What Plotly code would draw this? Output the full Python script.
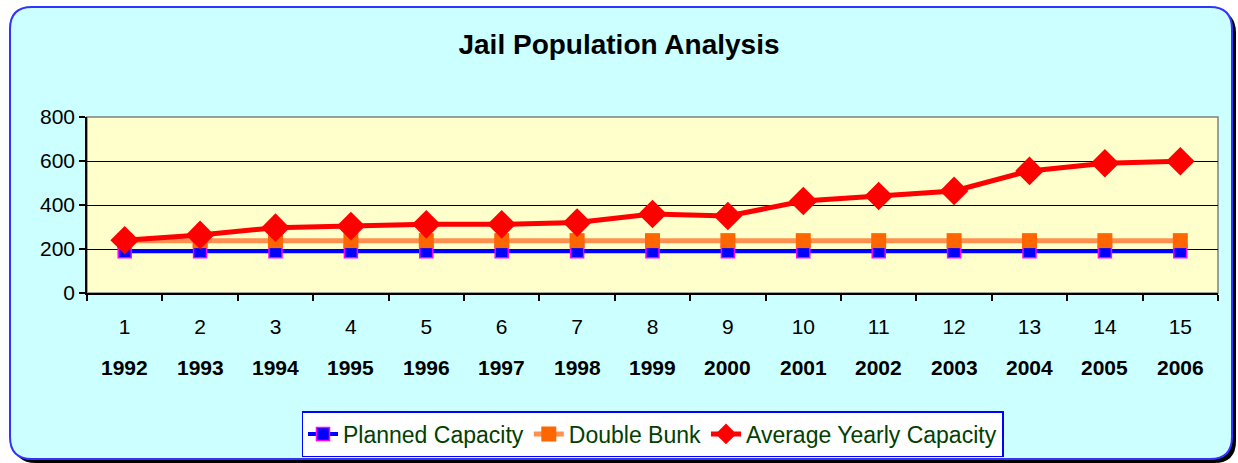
import plotly.graph_objects as go

categories = list(range(1, 16))
years = ["1992", "1993", "1994", "1995", "1996", "1997", "1998", "1999",
         "2000", "2001", "2002", "2003", "2004", "2005", "2006"]
planned_capacity = [190] * 15
double_bunk = [238] * 15
average_yearly = [240, 264, 297, 304, 312, 312, 320, 359, 350, 418, 441, 464, 555, 590, 599]

W, H = 1238, 463
ML, MR, MT, MB = 87, 20, 117, 170
PW = W - ML - MR
PH = H - MT - MB


def px_x(p):
    return (p - ML) / PW


def px_y(p):
    return (H - MB - p) / PH


def rounded_path(x0, y0, x1, y1, r):
    X = lambda v: px_x(v)
    Y = lambda v: px_y(v)
    return (
        f"M {X(x0 + r)} {Y(y0)} L {X(x1 - r)} {Y(y0)} "
        f"Q {X(x1)} {Y(y0)} {X(x1)} {Y(y0 + r)} "
        f"L {X(x1)} {Y(y1 - r)} Q {X(x1)} {Y(y1)} {X(x1 - r)} {Y(y1)} "
        f"L {X(x0 + r)} {Y(y1)} Q {X(x0)} {Y(y1)} {X(x0)} {Y(y1 - r)} "
        f"L {X(x0)} {Y(y0 + r)} Q {X(x0)} {Y(y0)} {X(x0 + r)} {Y(y0)} Z"
    )


FONT = "Liberation Sans, Arial, sans-serif"

fig = go.Figure()
fig.add_trace(go.Scatter(
    x=categories, y=planned_capacity, name="Planned Capacity", mode="lines+markers",
    line=dict(color="#0000FF", width=4),
    marker=dict(symbol="square", size=13, color="#0000FF", line=dict(color="#FF00FF", width=1.5)),
))
fig.add_trace(go.Scatter(
    x=categories, y=double_bunk, name="Double Bunk", mode="lines+markers",
    line=dict(color="#FF9050", width=5),
    marker=dict(symbol="square", size=15, color="#FF6600", line=dict(width=0)),
))
fig.add_trace(go.Scatter(
    x=categories, y=average_yearly, name="Average Yearly Capacity", mode="lines+markers",
    line=dict(color="#FF0000", width=5),
    marker=dict(symbol="diamond", size=22, color="#FF0000", line=dict(width=0)),
))

shapes = [
    dict(type="path", xref="paper", yref="paper", layer="below",
         path=rounded_path(14, 11, 1236, 463, 22), fillcolor="#000000", line=dict(width=0)),
    dict(type="path", xref="paper", yref="paper", layer="below",
         path=rounded_path(10, 7, 1232, 459, 22), fillcolor="#CCFFFF",
         line=dict(color="#3333FF", width=2)),
    dict(type="rect", xref="paper", yref="paper", layer="below",
         x0=0, x1=1, y0=0, y1=1, fillcolor="#FFFFCC", line=dict(color="#808080", width=1.5)),
]

annotations = [
    dict(x=c, y=px_y(367), xref="x", yref="paper", text=f"<b>{yr}</b>", showarrow=False,
         font=dict(family=FONT, size=21, color="#000000"), xanchor="center", yanchor="middle")
    for c, yr in zip(categories, years)
]

fig.update_layout(
    width=W, height=H,
    margin=dict(l=ML, r=MR, t=MT, b=MB, autoexpand=False),
    paper_bgcolor="#FFFFFF",
    plot_bgcolor="rgba(0,0,0,0)",
    font=dict(family=FONT, size=21, color="#000000"),
    title=dict(text="<b>Jail Population Analysis</b>", x=0.5, xref="container", xanchor="center",
               y=1 - 44 / H, yref="container", yanchor="middle",
               font=dict(family=FONT, size=28, color="#000000")),
    showlegend=True,
    legend=dict(orientation="h", x=0.5, xanchor="center", xref="paper",
                y=px_y(434), yanchor="middle", yref="paper",
                bgcolor="#FFFFFF", bordercolor="#0000FF", borderwidth=1.5,
                font=dict(family=FONT, size=23, color="#004000"),
                tracegroupgap=0),
    shapes=shapes,
    annotations=annotations,
    xaxis=dict(
        range=[0.5, 15.5], tickmode="array", tickvals=categories,
        ticktext=[str(c) for c in categories], ticks="", showgrid=False,
        showline=True, linecolor="#000000", linewidth=1.5, zeroline=False,
        ticklabelstandoff=14, tickfont=dict(family=FONT, size=21, color="#000000"),
        minor=dict(tickmode="array", tickvals=[c + 0.5 for c in [0] + categories],
                   ticks="outside", ticklen=6, tickcolor="#000000", tickwidth=1.5, showgrid=False),
    ),
    yaxis=dict(
        range=[0, 800], tickmode="array", tickvals=[0, 200, 400, 600, 800],
        ticks="outside", ticklen=6, tickcolor="#000000", tickwidth=1.5,
        showgrid=True, gridcolor="#000000", gridwidth=1,
        showline=True, linecolor="#000000", linewidth=1.5, zeroline=False,
        tickfont=dict(family=FONT, size=21, color="#000000"),
    ),
)

fig.write_html("out.html", config={"displayModeBar": False},
               post_script="document.body.style.margin='0';document.body.style.overflow='hidden';")
